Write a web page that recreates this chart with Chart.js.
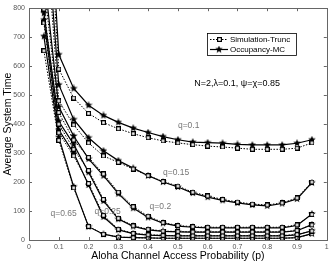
<!DOCTYPE html>
<html>
<head>
<meta charset="utf-8">
<script src="https://cdn.jsdelivr.net/npm/chart.js@4.4.0/dist/chart.umd.min.js"></script>
<style>
  html,body{margin:0;padding:0;background:#fff;}
  #wrap{width:332px;height:264px;position:relative;}
</style>
</head>
<body>
<div id="wrap"><canvas id="chart" width="332" height="264"></canvas></div>
<script>
// access probability p
var pValues=[0.05,0.1,0.15,0.2,0.25,0.3,0.35,0.4,0.45,0.5,0.55,0.6,0.65,0.7,0.75,0.8,0.85,0.9,0.95];
// average system time per q, Occupancy-MC (solid, star) and Simulation-Trunc (dotted, square)
var occQ010=[1500,640,523,465,430,406,386,371,357,346,338,336,334,330,328,328,328,334,346];
var simQ010=[1400,590,490,437,405,384,367,353,342,335,329,324,321,317,313,313,313,317,335];
var occQ015=[1200,536,416,353,308,274,248,222,200,183,162,148,137,128,121,118,126,142,198];
var simQ015=[1150,480,397,335,290,268,245,222,202,186,165,152,140,131,124,121,128,145,200];
var occQ020=[920,460,359,280,222,160,110,78,58,48,44,42,42,42,42,42,42,50,90];
var simQ020=[880,440,345,285,228,165,115,82,60,50,46,44,44,44,44,44,44,52,88];
var occQ025=[783,410,330,234,135,72,47,35,30,28,27,27,27,27,27,27,27,32,53];
var simQ025=[797,400,313,240,140,75,49,37,31,29,28,28,28,28,28,28,28,33,52];
var occQ035=[760,380,300,190,80,35,22,17,15,14,14,14,14,14,14,14,14,18,32];
var simQ035=[749,370,290,195,85,37,23,18,16,15,15,15,15,15,15,15,15,19,31];
var occQ065=[703,355,184,46,20,10,8,7,6,6,6,6,6,6,6,6,6,8,22];
var simQ065=[653,344,180,47,20,10,8,7,6,6,6,6,6,6,6,6,6,8,21];
var xTicks=[0,0.1,0.2,0.3,0.4,0.5,0.6,0.7,0.8,0.9,1];
var yTicks=[0,100,200,300,400,500,600,700,800];
var qLabels=[
  {text:"q=0.1",p:0.5,v:395},
  {text:"q=0.15",p:0.45,v:232},
  {text:"q=0.2",p:0.405,v:115},
  {text:"q=0.25",p:0.22,v:98},
  {text:"q=0.65",p:0.072,v:90}
];

function makeStar(size){
  var c=document.createElement('canvas');
  c.width=size;c.height=size;
  var g=c.getContext('2d');
  var cx=size/2,cy=size/2,ro=size/2,ri=size/4.6;
  g.beginPath();
  for(var i=0;i<10;i++){
    var r=(i%2==0)?ro:ri;
    var a=-Math.PI/2+i*Math.PI/5;
    var px=cx+r*Math.cos(a),py=cy+r*Math.sin(a);
    if(i==0) g.moveTo(px,py); else g.lineTo(px,py);
  }
  g.closePath();
  g.fillStyle='#000';
  g.fill();
  return c;
}
function makeSquare(size){
  var c=document.createElement('canvas');
  c.width=size;c.height=size;
  var g=c.getContext('2d');
  g.fillStyle='#fff';
  g.fillRect(0,0,size,size);
  g.strokeStyle='#000';
  g.lineWidth=1.2;
  g.strokeRect(0.6,0.6,size-1.2,size-1.2);
  return c;
}
var star=makeStar(8);
var square=makeSquare(5);

function pts(vals){
  var out=[];
  for(var i=0;i<pValues.length;i++) out.push({x:pValues[i],y:vals[i]});
  return out;
}
function simSet(vals){
  return {data:pts(vals),borderColor:'#000',borderWidth:1,borderDash:[1.5,1.5],
    pointStyle:square,pointRadius:2.5,fill:false,tension:0};
}
function occSet(vals){
  return {data:pts(vals),borderColor:'#000',borderWidth:1.2,
    pointStyle:star,pointRadius:4,fill:false,tension:0};
}

var frame={
  id:'frame',
  afterDraw:function(chart){
    var ctx=chart.ctx,a=chart.chartArea,xs=chart.scales.x,ys=chart.scales.y;
    ctx.save();
    ctx.strokeStyle='#666';
    ctx.lineWidth=1;
    ctx.strokeRect(Math.round(a.left)+0.5,Math.round(a.top)+0.5,Math.round(a.right-a.left),Math.round(a.bottom-a.top));
    ctx.beginPath();
    xTicks.forEach(function(t){
      var x=Math.round(xs.getPixelForValue(t))+0.5;
      ctx.moveTo(x,a.bottom);ctx.lineTo(x,a.bottom-3);
      ctx.moveTo(x,a.top);ctx.lineTo(x,a.top+3);
    });
    yTicks.forEach(function(t){
      var y=Math.round(ys.getPixelForValue(t))+0.5;
      ctx.moveTo(a.left,y);ctx.lineTo(a.left+3,y);
      ctx.moveTo(a.right,y);ctx.lineTo(a.right-3,y);
    });
    ctx.stroke();

    // q labels
    ctx.fillStyle='#777';
    ctx.font='8.5px "Liberation Sans", Arial, sans-serif';
    ctx.textBaseline='middle';
    qLabels.forEach(function(l){
      ctx.fillText(l.text,xs.getPixelForValue(l.p),ys.getPixelForValue(l.v));
    });

    // parameter text
    ctx.fillStyle='#000';
    ctx.font='9px "Liberation Sans", Arial, sans-serif';
    ctx.fillText('N=2,\u03bb=0.1, \u03c8=\u03c7=0.85',xs.getPixelForValue(0.555),ys.getPixelForValue(540));

    // legend box
    var lx=207,ly=33,lw=89,lh=22;
    ctx.fillStyle='#fff';
    ctx.fillRect(lx,ly,lw,lh);
    ctx.strokeStyle='#000';
    ctx.lineWidth=0.8;
    ctx.strokeRect(lx+0.5,ly+0.5,lw,lh);
    ctx.lineWidth=1;
    ctx.setLineDash([1.5,1.5]);
    ctx.beginPath();ctx.moveTo(lx+3,ly+6.5);ctx.lineTo(lx+21,ly+6.5);ctx.stroke();
    ctx.setLineDash([]);
    ctx.drawImage(square,lx+10,ly+4);
    ctx.lineWidth=1.2;
    ctx.beginPath();ctx.moveTo(lx+3,ly+16.5);ctx.lineTo(lx+21,ly+16.5);ctx.stroke();
    ctx.drawImage(star,lx+8,ly+12.5);
    ctx.fillStyle='#000';
    ctx.font='8px "Liberation Sans", Arial, sans-serif';
    ctx.fillText('Simulation-Trunc',lx+23,ly+7);
    ctx.fillText('Occupancy-MC',lx+23,ly+17);
    ctx.restore();
  }
};

new Chart(document.getElementById('chart'),{
  type:'line',
  data:{datasets:[
    simSet(simQ010),occSet(occQ010),
    simSet(simQ015),occSet(occQ015),
    simSet(simQ020),occSet(occQ020),
    simSet(simQ025),occSet(occQ025),
    simSet(simQ035),occSet(occQ035),
    simSet(simQ065),occSet(occQ065)
  ]},
  options:{
    responsive:false,
    animation:false,
    layout:{padding:{top:6,right:5,left:2,bottom:2}},
    plugins:{legend:{display:false},tooltip:{enabled:false}},
    scales:{
      x:{type:'linear',min:0,max:1,
        afterBuildTicks:function(s){s.ticks=xTicks.map(function(v){return {value:v};});},
        afterFit:function(s){s.height=22;},
        grid:{display:false,drawTicks:false},border:{display:false},
        ticks:{color:'#555',padding:3,maxRotation:0,autoSkip:false,
          font:{size:7,family:'"Liberation Sans", Arial, sans-serif'},
          callback:function(v){return String(Math.round(v*10)/10);}},
        title:{display:true,text:'Aloha Channel Access Probability (p)',color:'#000',
          padding:{top:0,bottom:0},
          font:{size:10.5,family:'"Liberation Sans", Arial, sans-serif'}}
      },
      y:{type:'linear',min:0,max:800,
        afterBuildTicks:function(s){s.ticks=yTicks.map(function(v){return {value:v};});},
        afterFit:function(s){s.width=27;},
        grid:{display:false,drawTicks:false},border:{display:false},
        ticks:{color:'#555',padding:4,autoSkip:false,
          font:{size:7,family:'"Liberation Sans", Arial, sans-serif'}},
        title:{display:true,text:'Average System Time',color:'#000',
          padding:{top:0,bottom:0},
          font:{size:10.5,family:'"Liberation Sans", Arial, sans-serif'}}
      }
    }
  },
  plugins:[frame]
});
</script>
</body>
</html>
